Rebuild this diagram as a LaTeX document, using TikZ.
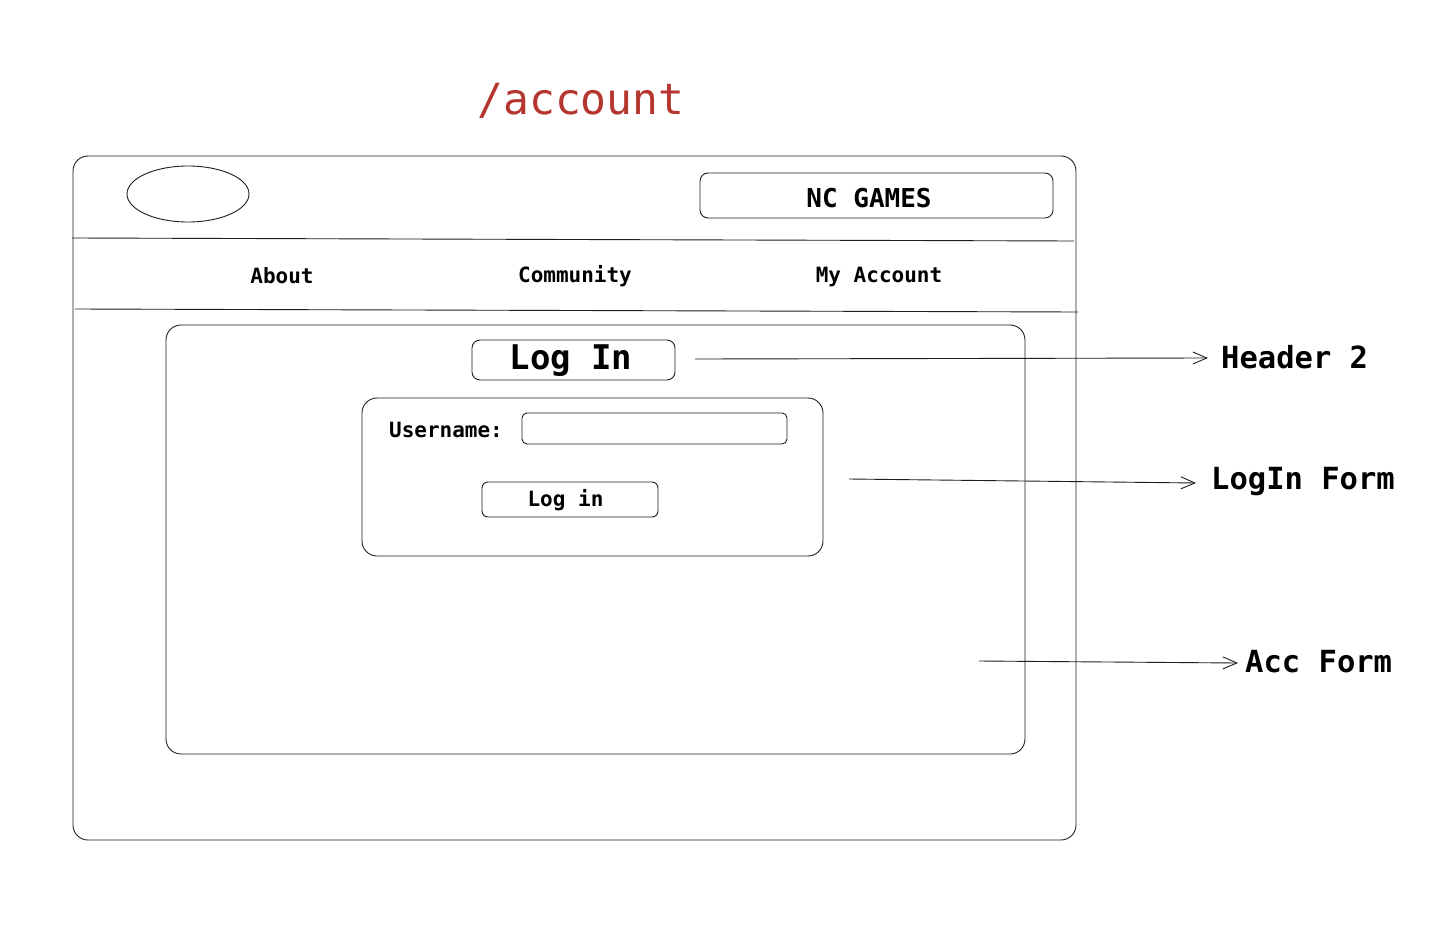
\documentclass[tikz,border=0pt]{standalone}
\usepackage{fontspec}
\setmonofont{DejaVu Sans Mono}
\usetikzlibrary{arrows.meta}
\definecolor{ink}{HTML}{1E1E1E}
\definecolor{titlered}{HTML}{B5362F}
\tikzset{
  box/.style={draw=ink, line width=0.9pt, rounded corners=#1, inner sep=0pt},
  box/.default=8pt,
  lbl/.style={font=\ttfamily\bfseries\fontsize{30.5}{32}\selectfont, text=black, inner sep=0pt, anchor=west},
  nav/.style={font=\ttfamily\bfseries\fontsize{21}{23}\selectfont, text=black, inner sep=0pt},
  conn/.style={draw=ink, line width=0.9pt, -{Straight Barb[length=14pt,width=12pt,line width=0.9pt]}},
  rule/.style={draw=ink, line width=0.9pt}
}
\begin{document}
\begin{tikzpicture}[x=1pt,y=-1pt]
\useasboundingbox (0,0) rectangle (1450,928);
\fill[white] (0,0) rectangle (1450,928);
% title
\node[font=\ttfamily\fontsize{43}{45}\selectfont, text=titlered, inner sep=0pt] (title) at (581,101) {/account};
% outer frame
\node[box=15pt, minimum width=1003pt, minimum height=684pt] (frame) at (574.5,498) {};
% logo ellipse
\draw[ink, line width=0.9pt] (188,194) ellipse [x radius=61, y radius=28];
\coordinate (logo) at (188,194);
% NC GAMES
\node[box=8pt, minimum width=353pt, minimum height=45pt] (brand) at (876.5,195.5) {};
\node[nav, font=\ttfamily\bfseries\fontsize{26}{28}\selectfont] (brandtxt) at (869,198) {NC GAMES};
% header rules
\coordinate (r1a) at (72,238); \coordinate (r1b) at (1074,241);
\coordinate (r2a) at (75,309); \coordinate (r2b) at (1078,312);
\draw[rule] (r1a) -- (r1b);
\draw[rule] (r2a) -- (r2b);
% nav
\node[nav] (about) at (282,276) {About};
\node[nav] (community) at (575,276) {Community};
\node[nav] (myacc) at (879,277) {My Account};
% inner form area
\node[box=15pt, minimum width=859pt, minimum height=429pt] (accform) at (595.5,539.5) {};
% Log In header
\node[box=8pt, minimum width=203pt, minimum height=40pt] (h2) at (573.5,360) {};
\node[nav, font=\ttfamily\bfseries\fontsize{34}{36}\selectfont] (h2txt) at (571,361) {Log In};
% login form
\node[box=15pt, minimum width=461pt, minimum height=158pt] (loginform) at (592.5,477) {};
\node[nav] (uname) at (446,430) {Username:};
\node[box=5pt, minimum width=265pt, minimum height=31pt] (input) at (654.5,428.5) {};
\node[box=6pt, minimum width=176pt, minimum height=35pt] (btn) at (570,499.5) {};
\node[nav] (btntxt) at (565.5,500) {Log in};
% annotation labels
\node[lbl] (lh2) at (1221,357) {Header 2};
\node[lbl] (llf) at (1211,482) {LogIn Form};
\node[lbl] (laf) at (1245,662) {Acc Form};
% connectors
\coordinate (s1) at (695,359);
\coordinate (s2) at (849,479);
\coordinate (s3) at (979,661);
\draw[conn] (s1) -- ([xshift=-13pt,yshift=-1pt]lh2.west);
\draw[conn] (s2) -- ([xshift=-15pt,yshift=-1pt]llf.west);
\draw[conn] (s3) -- ([xshift=-7pt,yshift=-1pt]laf.west);
\end{tikzpicture}
\end{document}
